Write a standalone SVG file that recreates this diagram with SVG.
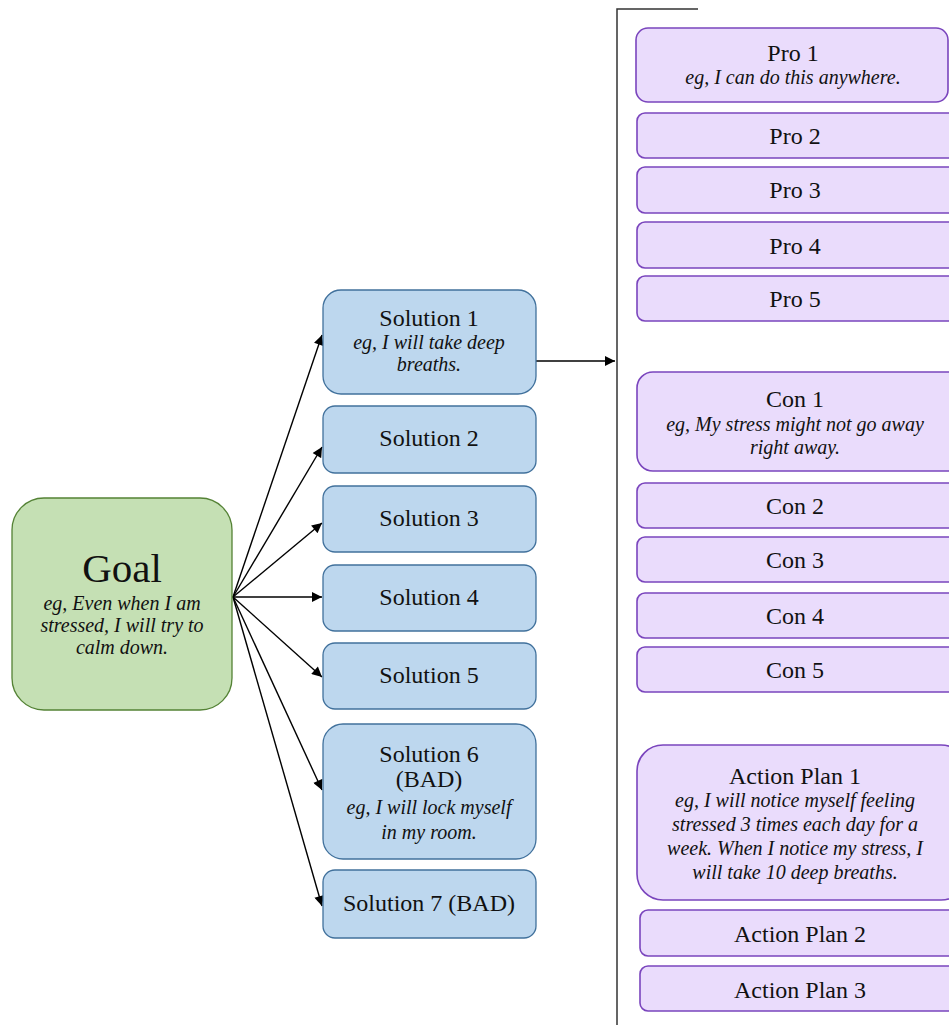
<svg xmlns="http://www.w3.org/2000/svg" width="949" height="1025" viewBox="0 0 949 1025">
<defs>
<marker id="ah" viewBox="0 0 10 10" refX="10" refY="5" markerWidth="11" markerHeight="10" markerUnits="userSpaceOnUse" orient="auto">
<path d="M0,0 L10,5 L0,10 z" fill="#000"/>
</marker>
</defs>
<style>
.goal{fill:#c5e0b4;stroke:#548235;stroke-width:1.3}
.sol{fill:#bdd7ee;stroke:#41719c;stroke-width:1.3}
.pur{fill:#eadcfc;stroke:#7a45bd;stroke-width:1.6}
.t{font-family:"Liberation Serif","Times New Roman",serif;fill:#111;text-anchor:middle}
.m{font-size:24px}
.s{font-size:20px;font-style:italic}
.c{stroke:#000;stroke-width:1.4;fill:none}
</style>
<rect width="949" height="1025" fill="#fff"/>
<g id="connectors">
<line class="c" x1="233" y1="597" x2="322" y2="335" marker-end="url(#ah)"/>
<line class="c" x1="233" y1="597" x2="322" y2="447" marker-end="url(#ah)"/>
<line class="c" x1="233" y1="597" x2="322" y2="523" marker-end="url(#ah)"/>
<line class="c" x1="233" y1="597" x2="322" y2="597" marker-end="url(#ah)"/>
<line class="c" x1="233" y1="597" x2="322" y2="677" marker-end="url(#ah)"/>
<line class="c" x1="233" y1="597" x2="322" y2="790" marker-end="url(#ah)"/>
<line class="c" x1="233" y1="597" x2="322" y2="906" marker-end="url(#ah)"/>
<line class="c" x1="536" y1="361" x2="615" y2="361" marker-end="url(#ah)"/>
<path d="M698,9 H617 V1025" fill="none" stroke="#333" stroke-width="1.5"/>
</g>
<g id="goal">
<rect class="goal" x="12" y="498" width="220" height="212" rx="32"/>
<text class="t" x="122" y="582" font-size="41">Goal</text>
<text class="t s" x="122" y="610">eg, Even when I am</text>
<text class="t s" x="122" y="632">stressed, I will try to</text>
<text class="t s" x="122" y="654">calm down.</text>
</g>
<g id="sol1">
<rect class="sol" x="323" y="290" width="213" height="104" rx="18"/>
<text class="t m" x="429" y="326">Solution 1</text>
<text class="t s" x="429" y="349">eg, I will take deep</text>
<text class="t s" x="429" y="371">breaths.</text>
</g>
<g id="sol2">
<rect class="sol" x="323" y="406" width="213" height="67" rx="12"/>
<text class="t m" x="429" y="446">Solution 2</text>
</g>
<g id="sol3">
<rect class="sol" x="323" y="486" width="213" height="66" rx="12"/>
<text class="t m" x="429" y="526">Solution 3</text>
</g>
<g id="sol4">
<rect class="sol" x="323" y="565" width="213" height="66" rx="12"/>
<text class="t m" x="429" y="605">Solution 4</text>
</g>
<g id="sol5">
<rect class="sol" x="323" y="643" width="213" height="66" rx="12"/>
<text class="t m" x="429" y="683">Solution 5</text>
</g>
<g id="sol6">
<rect class="sol" x="323" y="724" width="213" height="135" rx="20"/>
<text class="t m" x="429" y="762">Solution 6</text>
<text class="t m" x="429" y="787">(BAD)</text>
<text class="t s" x="429" y="814">eg, I will lock myself</text>
<text class="t s" x="429" y="839">in my room.</text>
</g>
<g id="sol7">
<rect class="sol" x="323" y="870" width="213" height="68" rx="12"/>
<text class="t m" x="429" y="911">Solution 7 (BAD)</text>
</g>
<g id="pro1">
<rect class="pur" x="636" y="28" width="312" height="74" rx="12"/>
<text class="t m" x="793" y="61">Pro 1</text>
<text class="t s" x="793" y="84">eg, I can do this  anywhere.</text>
</g>
<g id="pro2">
<rect class="pur" x="637" y="113" width="330" height="45" rx="8"/>
<text class="t m" x="795" y="144">Pro 2</text>
</g>
<g id="pro3">
<rect class="pur" x="637" y="167" width="330" height="46" rx="8"/>
<text class="t m" x="795" y="198">Pro 3</text>
</g>
<g id="pro4">
<rect class="pur" x="637" y="222" width="330" height="46" rx="8"/>
<text class="t m" x="795" y="254">Pro 4</text>
</g>
<g id="pro5">
<rect class="pur" x="637" y="276" width="330" height="45" rx="8"/>
<text class="t m" x="795" y="307">Pro 5</text>
</g>
<g id="con1">
<rect class="pur" x="637" y="372" width="330" height="99" rx="16"/>
<text class="t m" x="795" y="407">Con 1</text>
<text class="t s" x="795" y="431">eg, My stress might not go away</text>
<text class="t s" x="795" y="454">right away.</text>
</g>
<g id="con2">
<rect class="pur" x="637" y="483" width="330" height="45" rx="8"/>
<text class="t m" x="795" y="514">Con 2</text>
</g>
<g id="con3">
<rect class="pur" x="637" y="537" width="330" height="45" rx="8"/>
<text class="t m" x="795" y="568">Con 3</text>
</g>
<g id="con4">
<rect class="pur" x="637" y="593" width="330" height="45" rx="8"/>
<text class="t m" x="795" y="624">Con 4</text>
</g>
<g id="con5">
<rect class="pur" x="637" y="647" width="330" height="45" rx="8"/>
<text class="t m" x="795" y="678">Con 5</text>
</g>
<g id="ap1">
<rect class="pur" x="637" y="745" width="330" height="155" rx="26"/>
<text class="t m" x="795" y="784">Action Plan 1</text>
<text class="t s" x="795" y="807">eg, I will notice myself feeling</text>
<text class="t s" x="795" y="831">stressed 3 times  each day for a</text>
<text class="t s" x="795" y="855">week. When I notice my stress, I</text>
<text class="t s" x="795" y="879">will take 10 deep breaths.</text>
</g>
<g id="ap2">
<rect class="pur" x="640" y="910" width="330" height="46" rx="8"/>
<text class="t m" x="800" y="942">Action Plan 2</text>
</g>
<g id="ap3">
<rect class="pur" x="640" y="966" width="330" height="45" rx="8"/>
<text class="t m" x="800" y="998">Action Plan 3</text>
</g>
</svg>
